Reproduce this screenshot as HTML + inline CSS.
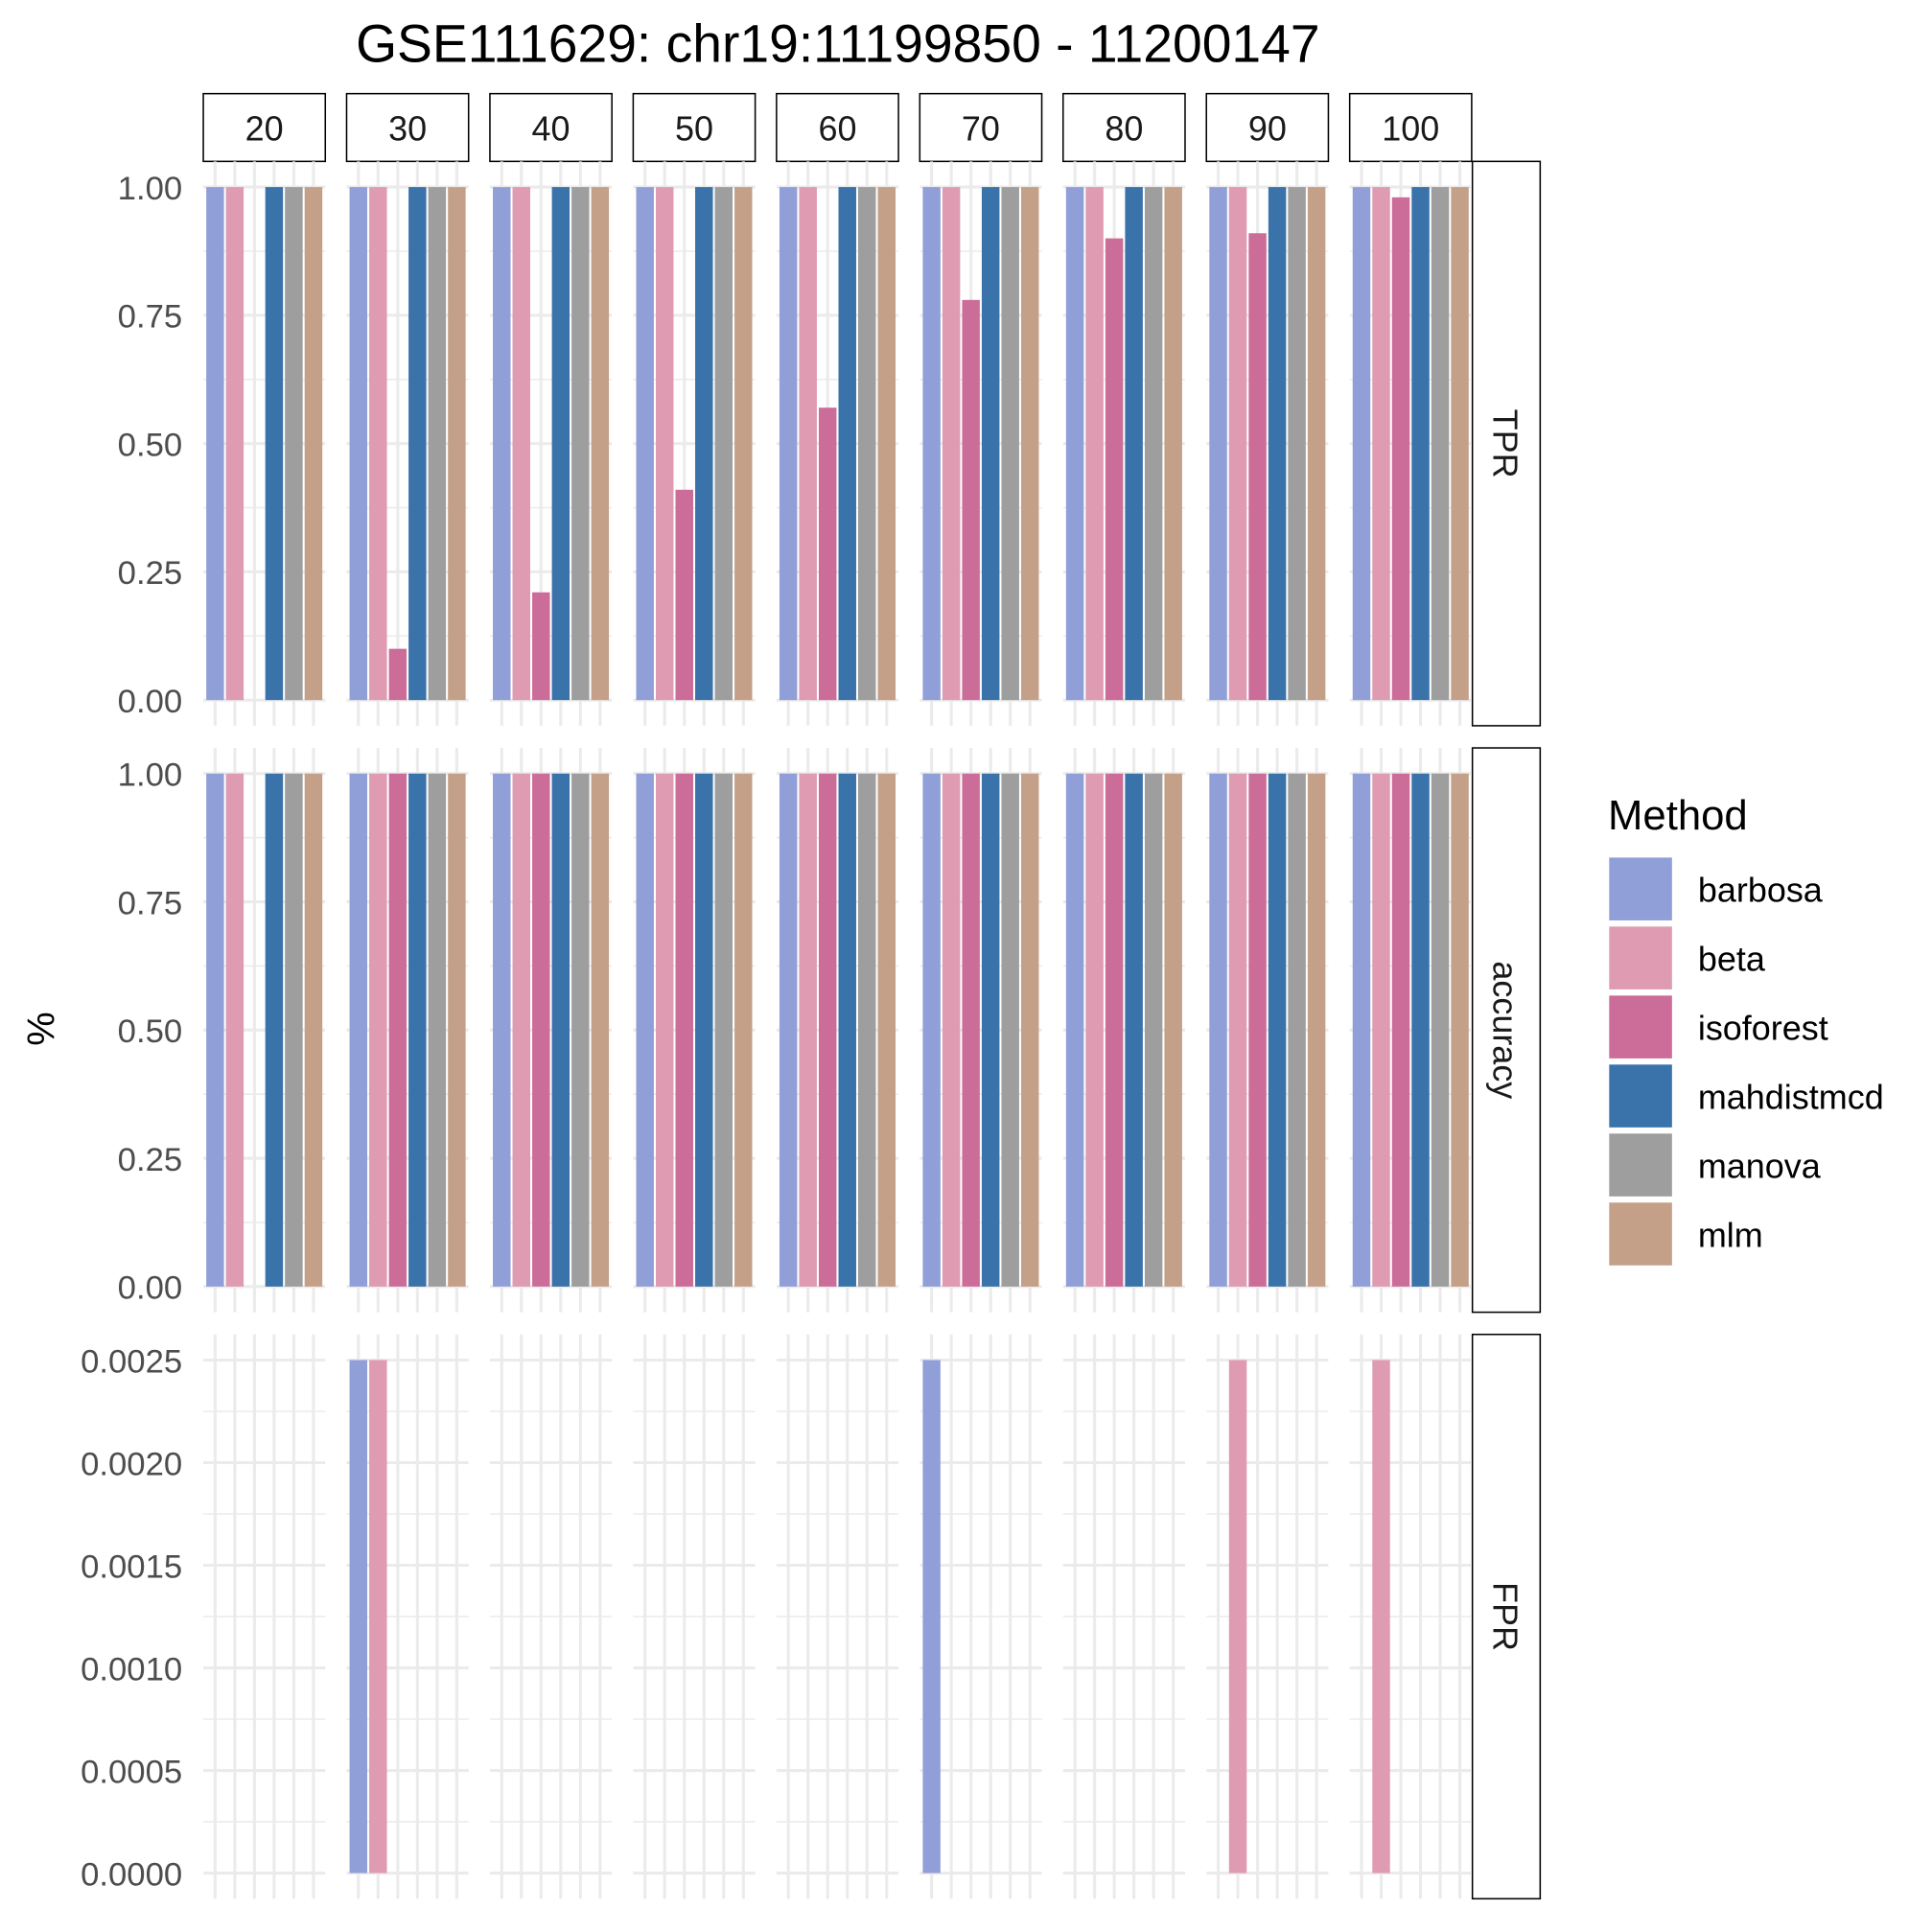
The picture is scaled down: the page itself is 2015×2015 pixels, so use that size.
<!DOCTYPE html>
<html><head><meta charset="utf-8"><style>html,body{margin:0;padding:0;background:#fff}svg{display:block}</style></head>
<body>
<svg id="chart" xmlns="http://www.w3.org/2000/svg" width="2015" height="2015" viewBox="0 0 1568 1568" font-family="Liberation Sans, Arial, sans-serif">
<text x="680" y="50" font-size="43" text-anchor="middle" fill="#000">GSE111629: chr19:11199850 - 11200147</text>
<text transform="translate(44,835) rotate(-90)" font-size="31" text-anchor="middle" fill="#000">%</text>
</svg>
<script>
const facets = ["20","30","40","50","60","70","80","90","100"];
const methods = ["barbosa","beta","isoforest","mahdistmcd","manova","mlm"];
const colors = ["#919fd8","#de9bb1","#cc6d99","#3a72aa","#9e9e9e","#c4a089"];
const metrics = ["TPR","accuracy","FPR"];
const tprValues = [
 [1,1,0,1,1,1],[1,1,0.10,1,1,1],[1,1,0.21,1,1,1],[1,1,0.41,1,1,1],[1,1,0.57,1,1,1],
 [1,1,0.78,1,1,1],[1,1,0.90,1,1,1],[1,1,0.91,1,1,1],[1,1,0.98,1,1,1]];
const accValues = [
 [1,1,0,1,1,1],[1,1,1,1,1,1],[1,1,1,1,1,1],[1,1,1,1,1,1],[1,1,1,1,1,1],
 [1,1,1,1,1,1],[1,1,1,1,1,1],[1,1,1,1,1,1],[1,1,1,1,1,1]];
const fprValues = [
 [0,0,0,0,0,0],[0.0025,0.0025,0,0,0,0],[0,0,0,0,0,0],[0,0,0,0,0,0],[0,0,0,0,0,0],
 [0.0025,0,0,0,0,0],[0,0,0,0,0,0],[0,0.0025,0,0,0,0],[0,0.0025,0,0,0,0]];
const unitTicks = [0,0.25,0.5,0.75,1];
const unitTickLabels = ["0.00","0.25","0.50","0.75","1.00"];
const fprTicks = [0,0.0005,0.001,0.0015,0.002,0.0025];
const fprTickLabels = ["0.0000","0.0005","0.0010","0.0015","0.0020","0.0025"];

const svg = document.getElementById('chart');
const NS = "http://www.w3.org/2000/svg";
function mk(tag, attrs, parent){const e=document.createElementNS(NS,tag);for(const k in attrs)e.setAttribute(k,attrs[k]);(parent||svg).appendChild(e);return e;}

const colX0 = 165, colStep = 116.3, colW = 99;
const rowTops = [131, 607, 1083], rowH = 458;
const rowData = [tprValues, accValues, fprValues];
const rowTicks = [unitTicks, unitTicks, fprTicks];
const rowTickLabels = [unitTickLabels, unitTickLabels, fprTickLabels];
const rowMax = [1, 1, 0.0025];

function yScale(r, v){
  const top = rowTops[r], bot = top + rowH, m = rowMax[r];
  const lo = -0.05*m, hi = 1.05*m;
  return bot - (v - lo)/(hi - lo)*rowH;
}
function xScale(c, i){
  const x0 = colX0 + c*colStep, unit = colW/6.2;
  return x0 + (0.6 + i)*unit;
}
const unitW = colW/6.2;

facets.forEach((f,c)=>{
  const x0 = colX0 + c*colStep;
  const r = mk('rect',{x:x0,y:76,width:colW,height:55,fill:'#fff',stroke:'#000','stroke-width':1.2});
  
  
  const t = mk('text',{x:x0+colW/2,y:114,'font-size':28,'text-anchor':'middle',fill:'#1a1a1a'});
  t.textContent=f;
  
  
});

metrics.forEach((m,r)=>{
  const top=rowTops[r];
  const rs = mk('rect',{x:1195,y:top,width:55,height:rowH,fill:'#fff',stroke:'#000','stroke-width':1.2});
  
  
  const rt = mk('text',{transform:`translate(1212,${top+rowH/2}) rotate(90)`,'font-size':28,'text-anchor':'middle',fill:'#1a1a1a'});
  rt.textContent=m;
  
  
  rowTicks[r].forEach((tv,k)=>{
    const t = mk('text',{x:148,y:yScale(r,tv)+10,'font-size':27,'text-anchor':'end',fill:'#4d4d4d'});
    t.textContent = rowTickLabels[r][k];
    
    
  });
  facets.forEach((f,c)=>{
    const x0 = colX0 + c*colStep;
    const g = mk('g',{});
    
    
    const ticks = rowTicks[r];
    for(let k=0;k<ticks.length-1;k++){
      const y=yScale(r,(ticks[k]+ticks[k+1])/2);
      mk('line',{x1:x0,x2:x0+colW,y1:y,y2:y,stroke:'#ebebeb','stroke-width':1.2},g);
    }
    ticks.forEach(tv=>{const y=yScale(r,tv);mk('line',{x1:x0,x2:x0+colW,y1:y,y2:y,stroke:'#ebebeb','stroke-width':2.4},g);});
    methods.forEach((md,i)=>{const x=xScale(c,i);mk('line',{x1:x,x2:x,y1:top,y2:top+rowH,stroke:'#ebebeb','stroke-width':2.4},g);});
    methods.forEach((md,i)=>{
      const v = rowData[r][c][i];
      if(v<=0) return;
      const y0=yScale(r,0), y1=yScale(r,v);
      const b = mk('rect',{x:xScale(c,i)-0.45*unitW,y:y1,width:0.9*unitW,height:y0-y1,fill:colors[i]},g);
      
      
    });
  });
});

const lt = mk('text',{x:1305,y:673,'font-size':34,fill:'#000'});
lt.textContent='Method';


methods.forEach((md,i)=>{
  const y=696+i*56;
  const g=mk('g',{});
  
  
  mk('rect',{x:1306,y:y,width:51,height:51,fill:colors[i]},g);
  const t=mk('text',{x:1378,y:y+36,'font-size':28,fill:'#000'},g);
  t.textContent=md;
});
</script>
</body></html>
